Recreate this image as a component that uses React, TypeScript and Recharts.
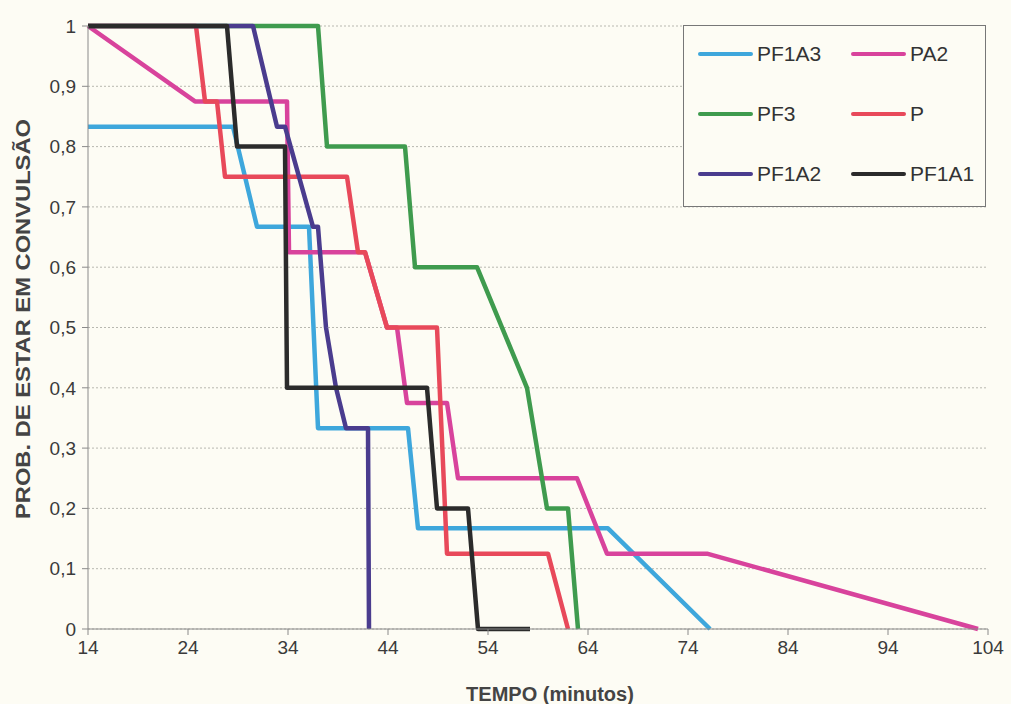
import React from 'react';
import { LineChart, Line, XAxis, YAxis, CartesianGrid, Legend } from 'recharts';

// ---- data (time in minutes, probability) ----
const xTicks = [14, 24, 34, 44, 54, 64, 74, 84, 94, 104];
const yTicks = [0, 0.1, 0.2, 0.3, 0.4, 0.5, 0.6, 0.7, 0.8, 0.9, 1];

const pf1a3Time = [14, 28.5, 30.9, 36.1, 37, 46, 47, 66, 76.2];
const pf1a3Prob = [0.833, 0.833, 0.667, 0.667, 0.333, 0.333, 0.167, 0.167, 0];

const pa2Time = [14, 24.7, 33.9, 34.1, 41.7, 43.9, 44.9, 45.9, 49.9, 51, 62.9, 65.9, 75.9, 103];
const pa2Prob = [1, 0.875, 0.875, 0.625, 0.625, 0.5, 0.5, 0.375, 0.375, 0.25, 0.25, 0.125, 0.125, 0];

const pf3Time = [14, 37, 37.9, 45.7, 46.7, 52.9, 57.9, 59.9, 62, 63];
const pf3Prob = [1, 1, 0.8, 0.8, 0.6, 0.6, 0.4, 0.2, 0.2, 0];

const pTime = [14, 24.8, 25.7, 26.9, 27.7, 39.9, 41, 41.7, 43.9, 48.9, 49.9, 60, 62];
const pProb = [1, 1, 0.875, 0.875, 0.75, 0.75, 0.625, 0.625, 0.5, 0.5, 0.125, 0.125, 0];

const pf1a2Time = [14, 30.5, 32.9, 33.7, 36.5, 37, 37.8, 38.8, 39.8, 42, 42.1];
const pf1a2Prob = [1, 1, 0.833, 0.833, 0.667, 0.667, 0.5, 0.4, 0.333, 0.333, 0];

const pf1a1Time = [14, 27.9, 28.9, 33.7, 33.9, 47.9, 48.9, 52, 53, 58.2];
const pf1a1Prob = [1, 1, 0.8, 0.8, 0.4, 0.4, 0.2, 0.2, 0, 0];

const build = (xs: number[], ys: number[]) => xs.map((x, i) => ({ x, y: ys[i] }));

const series = [
  { name: 'PF1A3', color: '#3ea7dc', data: build(pf1a3Time, pf1a3Prob) },
  { name: 'PA2', color: '#d8439c', data: build(pa2Time, pa2Prob) },
  { name: 'PF3', color: '#3f9b4e', data: build(pf3Time, pf3Prob) },
  { name: 'P', color: '#e8495a', data: build(pTime, pProb) },
  { name: 'PF1A2', color: '#4a3c8e', data: build(pf1a2Time, pf1a2Prob) },
  { name: 'PF1A1', color: '#2b2b2b', data: build(pf1a1Time, pf1a1Prob) },
];

const fmtY = (v: number) => {
  if (v === 0) return '0';
  if (v === 1) return '1';
  return v.toFixed(1).replace('.', ',');
};

const FONT = '"Liberation Sans", Arial, Helvetica, sans-serif';

const LegendBox = () => {
  const rows = [
    [series[0], series[1]],
    [series[2], series[3]],
    [series[4], series[5]],
  ];
  return (
    <div
      style={{
        width: 303,
        height: 182,
        border: '1px solid #777',
        boxSizing: 'border-box',
        background: '#fdfcf4',
        fontFamily: FONT,
        position: 'relative',
      }}
    >
      {rows.map((row, r) =>
        row.map((s, c) => (
          <div
            key={s.name}
            style={{
              position: 'absolute',
              left: c === 0 ? 14 : 167,
              top: 28 + r * 60 - 12,
              height: 24,
              display: 'flex',
              alignItems: 'center',
            }}
          >
            <div style={{ width: 55, height: 4, background: s.color, borderRadius: 2 }} />
            <span style={{ marginLeft: 4, fontSize: 21, color: '#333', lineHeight: '24px' }}>{s.name}</span>
          </div>
        ))
      )}
    </div>
  );
};

const YLabel = () => (
  <text
    x={30}
    y={319}
    transform="rotate(-90 30 319)"
    textAnchor="middle"
    fontFamily={FONT}
    fontWeight="bold"
    fontSize={21}
    fill="#444"
    textLength={400}
    lengthAdjust="spacingAndGlyphs"
  >
    PROB. DE ESTAR EM CONVULSÃO
  </text>
);

const XLabel = () => (
  <text
    x={550}
    y={701}
    textAnchor="middle"
    fontFamily={FONT}
    fontWeight="bold"
    fontSize={20}
    fill="#444"
  >
    TEMPO (minutos)
  </text>
);

export default function App() {
  return (
    <div
      style={{
        position: 'fixed',
        left: 0,
        top: 0,
        width: 1011,
        height: 704,
        background: '#fdfcf4',
      }}
    >
      <LineChart width={1011} height={704} margin={{ top: 26, right: 23, left: 0, bottom: 0 }}>
        <CartesianGrid horizontal vertical={false} stroke="#b8b8b0" strokeDasharray="2 2" />
        <XAxis
          dataKey="x"
          type="number"
          domain={[14, 104]}
          ticks={xTicks}
          height={75}
          allowDuplicatedCategory={false}
          tickSize={6}
          tickMargin={6}
          stroke="#8a8a8a"
          tick={{ fontSize: 19, fill: '#3a3a3a', fontFamily: FONT }}
          label={<XLabel />}
        />
        <YAxis
          type="number"
          domain={[0, 1]}
          ticks={yTicks}
          width={88}
          tickSize={6}
          tickMargin={6}
          stroke="#8a8a8a"
          tickFormatter={fmtY}
          tick={{ fontSize: 19, fill: '#3a3a3a', fontFamily: FONT }}
          label={<YLabel />}
        />
        <Legend
          layout="vertical"
          align="center"
          verticalAlign="middle"
          wrapperStyle={{ left: 683, top: 25, width: 303, height: 182 }}
          content={<LegendBox />}
        />
        {series.map((s) => (
          <Line
            key={s.name}
            data={s.data}
            dataKey="y"
            name={s.name}
            type="linear"
            stroke={s.color}
            strokeWidth={4.5}
            dot={false}
            activeDot={false}
            isAnimationActive={false}
            strokeLinejoin="round"
          />
        ))}
      </LineChart>
    </div>
  );
}
